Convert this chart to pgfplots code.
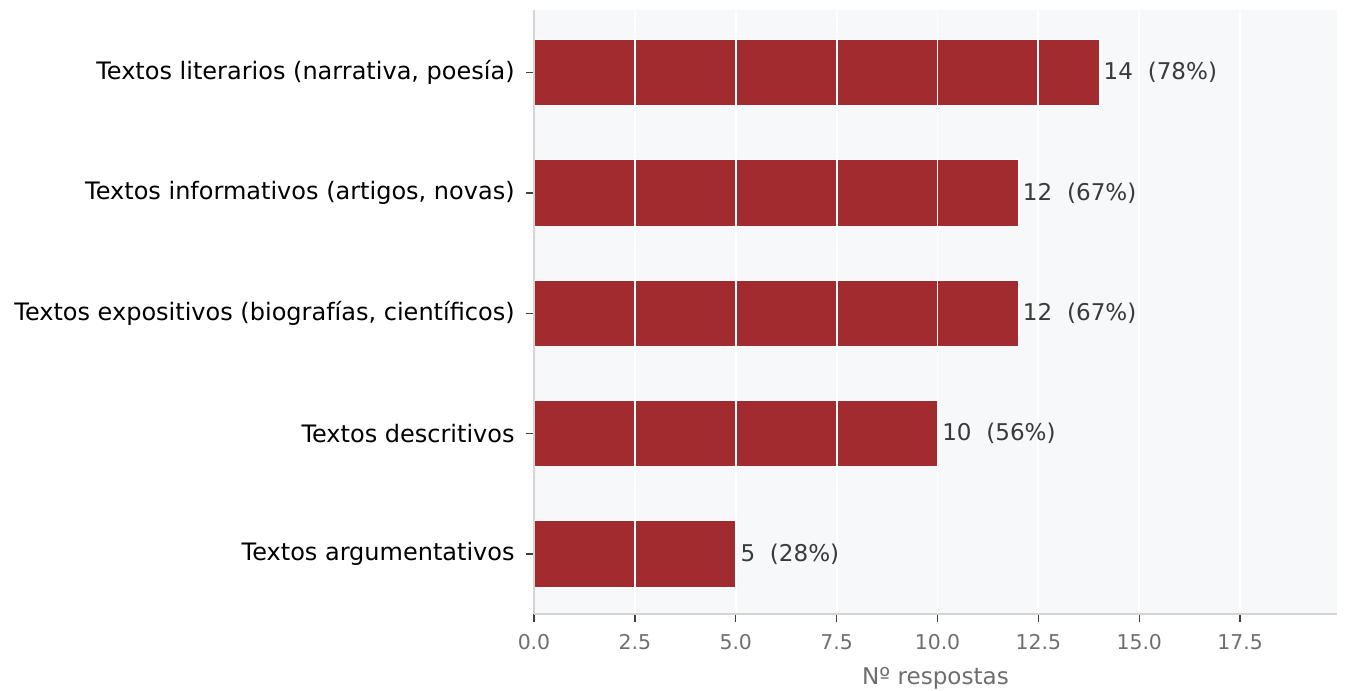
\documentclass[border=0pt]{standalone}
\usepackage{pgfplots}
\pgfplotsset{compat=1.18}
\usepackage{pgfplotstable}
\usepackage{fontspec}
\setmainfont{DejaVu Sans}
\definecolor{barred}{HTML}{A12B2E}
\definecolor{bgc}{HTML}{F7F8FA}
\definecolor{spine}{HTML}{D4D4D4}
\definecolor{ticklab}{HTML}{6E6E6E}
\definecolor{vallab}{HTML}{3A3A3A}
\pgfplotstableread[col sep=comma]{
y,val,lab
0,5,5\hspace{0.64em}(28\%)
1,10,10\hspace{0.64em}(56\%)
2,12,12\hspace{0.64em}(67\%)
3,12,12\hspace{0.64em}(67\%)
4,14,14\hspace{0.64em}(78\%)
}\datatab
\begin{document}
\begin{tikzpicture}
\begin{axis}[
  name=ax,
  scale only axis,
  width=602.25pt, height=453pt,
  xmin=0, xmax=19.9,
  ymin=-0.5, ymax=4.52,
  xbar, bar width=0.55,
  axis background/.style={fill=bgc},
  axis on top,
  axis x line*=bottom, axis y line*=left,
  axis line style={spine, line width=1.1pt, -},
  xtick pos=bottom, ytick pos=left,
  xtick align=outside, ytick align=outside,
  major tick length=6pt,
  every tick/.style={black!75, line width=1pt},
  xtick={0,2.5,...,17.5},
  xticklabel style={font=\fontsize{15.3}{17}\selectfont, text=ticklab, yshift=-6pt},
  /pgf/number format/.cd, fixed, fixed zerofill, precision=1, assume math mode=true, /pgfplots/.cd,
  ytick={0,1,2,3,4},
  yticklabels={Textos argumentativos, Textos descritivos, {Textos expositivos (biografías, científicos)}, {Textos informativos (artigos, novas)}, {Textos literarios (narrativa, poesía)}},
  yticklabel style={font=\fontsize{18}{20}\selectfont, text=black, xshift=-5pt},
  xmajorgrids, ymajorgrids=false,
  major grid style={white, line width=1.4pt},
  xlabel={Nº respostas},
  xlabel style={font=\fontsize{17.3}{19}\selectfont, text=ticklab, yshift=-6pt},
  nodes near coords,
  point meta=explicit symbolic,
  every node near coord/.append style={font=\fontsize{17.3}{19}\selectfont, text=vallab, anchor=west, xshift=0pt},
  clip=false,
]
\addplot[fill=barred, draw=white, line width=0.5pt] table[x=val, y=y, meta=lab] {\datatab};
\pgfplotsinvokeforeach{0,2.5,5,7.5,10,12.5,15,17.5}{
  \draw[black!65, line width=1pt] (axis cs:#1,-0.5) -- ++(0pt,-6pt);
}
\end{axis}
\pgfresetboundingbox
\path ([xshift=-400.5pt, yshift=-57.75pt]ax.south west) rectangle ([xshift=6.75pt, yshift=7.5pt]ax.north east);
\end{tikzpicture}
\end{document}
